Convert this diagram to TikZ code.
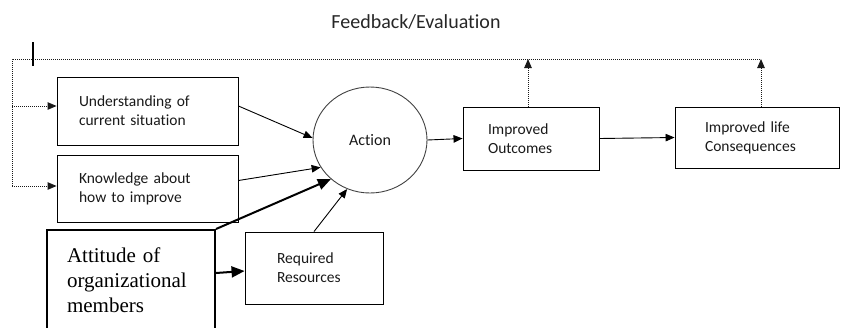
\documentclass[tikz,border=0pt]{standalone}
\usepackage{fontspec}
\setmainfont[Ligatures=NoCommon]{Carlito}
\newfontfamily\tnr{Liberation Serif}
\usetikzlibrary{arrows.meta,shapes.geometric}
\begin{document}
\begin{tikzpicture}[x=1pt,y=-1pt,
  box/.style={draw, line width=0.9pt, align=left, inner ysep=0pt, font=\fontsize{15.5}{19}\selectfont, text=black!90},
  thinarr/.style={line width=0.9pt, -{Triangle[length=9pt,width=7.5pt]}},
  thickarr/.style={line width=2pt, -{Triangle[length=13pt,width=11pt]}},
  fb/.style={line width=0.9pt, dash pattern=on 1pt off 1pt, black!90},
  fbarrow/.style={fb, -{Triangle[length=9pt,width=7.5pt]}}]
\useasboundingbox (0,0) rectangle (846,327);

\node[font=\fontsize{20}{24}\selectfont, text=black!85] (title) at (416,22) {Feedback/Evaluation};

\node[box, minimum width=181pt, minimum height=68pt, text width=137pt] (b1) at (147.5,111) {Understanding of\\current situation};
\node[box, minimum width=181pt, minimum height=67pt, text width=137pt] (b2) at (147.5,188.5) {Knowledge about\\how to improve};
\node[draw=black!75, line width=0.9pt, ellipse, minimum width=114pt, minimum height=106pt, inner sep=0pt, font=\fontsize{16}{19}\selectfont, text=black!90] (act) at (370,140) {Action};
\node[box, minimum width=136pt, minimum height=63pt, text width=86pt] (out) at (531,138.5) {Improved\\Outcomes};
\node[box, minimum width=164pt, minimum height=61pt, text width=104pt] (life) at (757,137.5) {Improved life\\Consequences};
\node[box, minimum width=138pt, minimum height=72pt, text width=74pt] (req) at (314,268) {Required\\Resources};
\node[draw, line width=2pt, align=left, minimum width=168pt, minimum height=100pt, text width=128pt, inner ysep=0pt, font=\tnr\fontsize{21}{25}\selectfont] (att) at (131,280) {Attitude of\\organizational\\members};

% feedback loop
\coordinate (c0) at (12,186);
\coordinate (c1) at (12,59);
\coordinate (c2) at (761,59);
\coordinate (c3) at (12,106);
\coordinate (fb1) at (528,59);
\coordinate (fb2) at (761,59);
\draw[fb] (c0) -- (c1) -- (c2);
\draw[fbarrow] (c3) -- (c3 -| b1.west);
\draw[fbarrow] (c0) -- (c0 -| b2.west);
\draw[fbarrow] ([xshift=-3pt]out.north) -- (fb1);
\draw[fbarrow] ([xshift=4pt]life.north) -- (fb2);
\coordinate (tk1) at (33,42);
\coordinate (tk2) at (33,66);
\draw[line width=2.5pt] (tk1) -- (tk2);

% main arrows
\draw[thinarr] ([yshift=5pt]b1.east) -- (act.178);
\draw[thinarr] ([yshift=8pt]b2.east) -- (act.209);
\draw[thinarr] (req.north) -- (act.245);
\draw[thinarr] (act.east) -- (out.west);
\draw[thinarr] (out.east) -- (life.west);
\draw[thickarr] (att.north east) -- (act.225);
\draw[thickarr] ([yshift=7pt]att.east) -- ([yshift=-3pt]req.west);
\end{tikzpicture}
\end{document}
